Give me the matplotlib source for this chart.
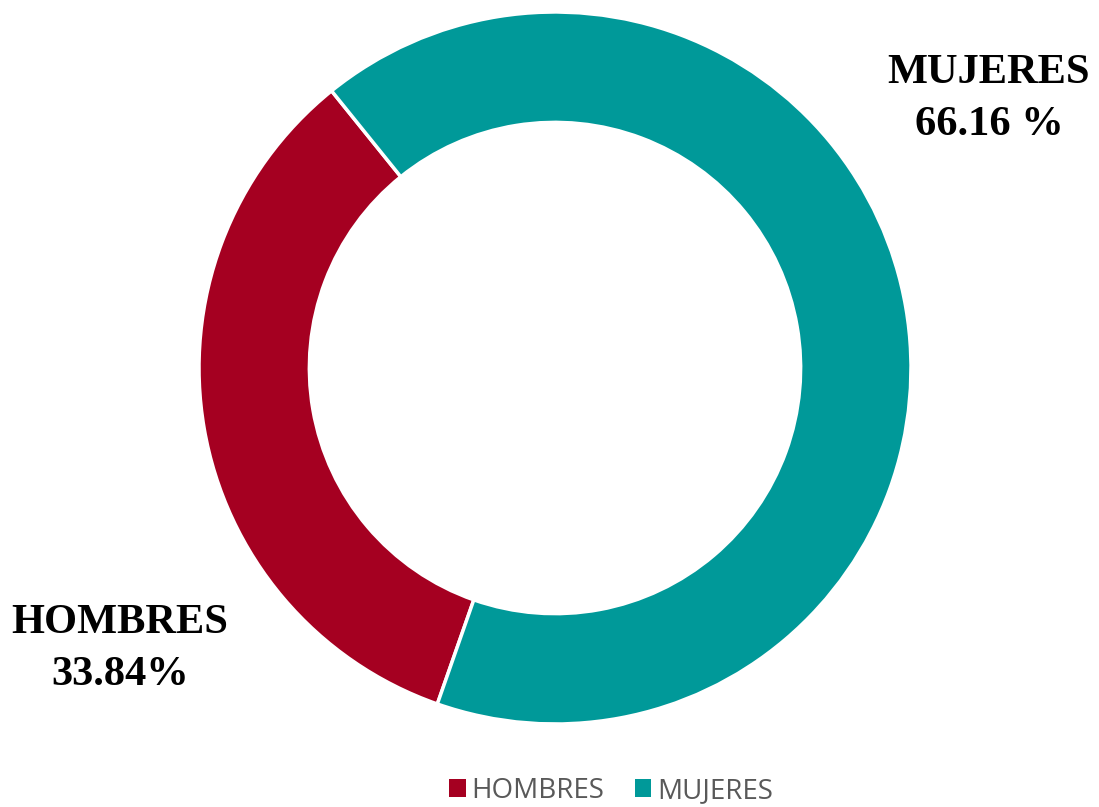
import matplotlib
matplotlib.use("Agg")
import matplotlib.pyplot as plt
from matplotlib.patches import Patch

categories = ["HOMBRES", "MUJERES"]
values = [33.84, 66.16]
label_texts = ["HOMBRES\n33.84%", "MUJERES\n66.16 %"]
colors = ["#A50021", "#009999"]

W, H = 1099, 807
fig = plt.figure(figsize=(W / 100, H / 100), dpi=100)
fig.patch.set_facecolor("white")

cx, cy, R = 555, 368, 356
ax = fig.add_axes([(cx - R) / W, (H - cy - R) / H, 2 * R / W, 2 * R / H])
ax.pie(values, colors=colors, startangle=250.7, counterclock=False,
       radius=1.0, wedgeprops=dict(width=0.31, edgecolor="white", linewidth=2.5))
ax.set_xlim(-1, 1)
ax.set_ylim(-1, 1)
ax.set_aspect("equal")
ax.axis("off")

label_pos = [(120, 649), (989, 99)]
for txt, (x, y) in zip(label_texts, label_pos):
    fig.text(x / W, 1 - y / H, txt, ha="center", va="center",
             family="Liberation Serif", fontweight="bold", fontsize=30.5,
             linespacing=1.5, color="black")

handles = [Patch(facecolor=c, edgecolor="none") for c in colors]
fig.legend(handles, categories, loc="center", bbox_to_anchor=(611 / W, 1 - 791 / H),
           ncol=2, frameon=False, prop=dict(family="Open Sans", size=20),
           labelcolor="#595959", handlelength=0.6, handleheight=0.6,
           handletextpad=0.2, columnspacing=1.1)

fig.savefig("out.png", dpi=100, facecolor="white")
